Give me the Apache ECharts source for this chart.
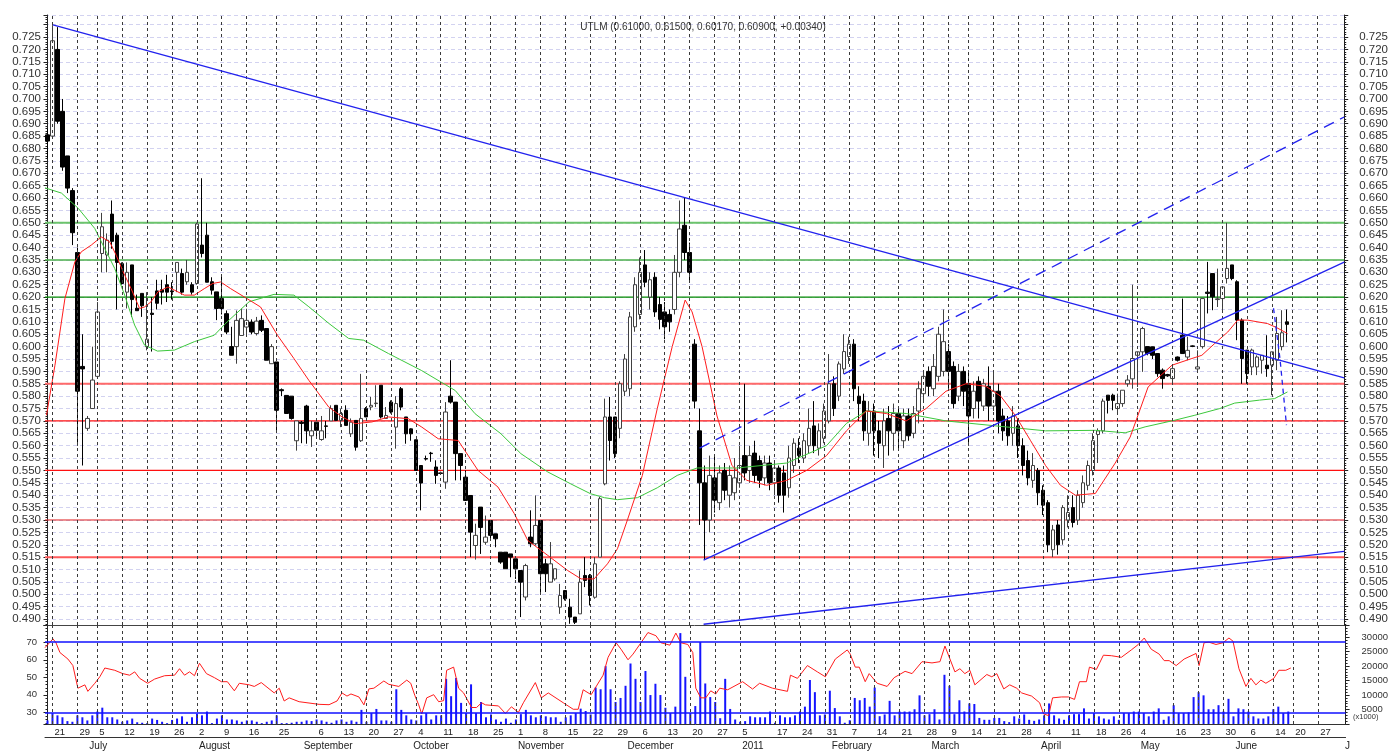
<!DOCTYPE html>
<html>
<head>
<meta charset="utf-8">
<script src="https://cdn.jsdelivr.net/npm/echarts@6/dist/echarts.min.js"></script>
<style>
  html, body { margin: 0; padding: 0; background: #fff; }
  #chart { width: 1391px; height: 751px; }
</style>
</head>
<body>
<div id="chart"></div>
<script>
// UTLM daily candles, RSI and volume, June 2010 - June 2011.

var slots = 261; // trading-day slots along the x axis (last ones are empty)

// [slot, label] for the weekly day ticks and the month ticks
var dayTicks = [[1,'21'],[6,'29'],[10,'5'],[15,'12'],[20,'19'],[25,'26'],[30,'2'],[35,'9'],[40,'16'],[46,'25'],
  [54,'6'],[59,'13'],[64,'20'],[69,'27'],[74,'4'],[79,'11'],[84,'18'],[89,'25'],[94,'1'],[99,'8'],
  [104,'15'],[109,'22'],[114,'29'],[119,'6'],[124,'13'],[129,'20'],[134,'27'],[139,'5'],[146,'17'],[151,'24'],
  [156,'31'],[161,'7'],[166,'14'],[171,'21'],[176,'28'],[181,'9'],[185,'14'],[190,'21'],[195,'28'],[200,'4'],
  [205,'11'],[210,'18'],[215,'26'],[219,'4'],[226,'16'],[231,'23'],[236,'30'],[241,'6'],[246,'14'],[250,'20'],[255,'27']];
var monthTicks = [[8,'July'],[30,'August'],[51,'September'],[73,'October'],[94,'November'],[116,'December'],
  [139,'2011'],[157,'February'],[177,'March'],[199,'April'],[219,'May'],[238,'June'],[260,'J']];

// [open, close, low, high] per slot
var candles = [
  [0.6855,0.683,0.676,0.688],[0.685,0.7235,0.684,0.7298],[0.720,0.691,0.690,0.729],[0.695,0.6725,0.671,0.700],[0.677,0.664,0.662,0.677],
  [0.663,0.646,0.641,0.664],[0.638,0.582,0.560,0.640],[0.592,0.591,0.552,0.605],[0.567,0.571,0.566,0.572],[0.575,0.5865,0.575,0.600],
  [0.588,0.614,0.587,0.618],[0.6376,0.6484,0.630,0.654],[0.637,0.643,0.630,0.6457],[0.6535,0.6425,0.6395,0.659],[0.645,0.634,0.615,0.646],
  [0.6335,0.6255,0.625,0.634],[0.622,0.630,0.6154,0.634],[0.633,0.619,0.612,0.633],[0.6155,0.6145,0.6145,0.621],[0.6215,0.6165,0.612,0.6215],
  [0.600,0.603,0.5985,0.622],[0.6135,0.613,0.598,0.620],[0.6225,0.6175,0.615,0.627],[0.623,0.622,0.617,0.627],[0.625,0.622,0.618,0.629],
  [0.6225,0.6222,0.619,0.626],[0.630,0.634,0.622,0.634],[0.6295,0.622,0.621,0.6315],[0.6262,0.630,0.625,0.635],[0.625,0.622,0.621,0.626],
  [0.6255,0.6495,0.625,0.650],[0.641,0.6376,0.636,0.668],[0.645,0.626,0.626,0.650],[0.6262,0.6228,0.621,0.628],[0.6221,0.6154,0.6107,0.6221],
  [0.6194,0.6154,0.613,0.629],[0.6133,0.6059,0.605,0.6146],[0.600,0.5965,0.5965,0.608],[0.600,0.6106,0.5931,0.6146],[0.6045,0.6113,0.6045,0.6153],
  [0.6079,0.6106,0.604,0.6153],[0.6099,0.6059,0.605,0.611],[0.6053,0.6103,0.6045,0.612],[0.6106,0.6066,0.6059,0.6126],[0.6073,0.5945,0.5945,0.6073],
  [0.5931,0.600,0.5931,0.601],[0.5938,0.5743,0.5655,0.5938],[0.5826,0.5822,0.580,0.5831],[0.5803,0.573,0.573,0.5803],[0.580,0.571,0.5705,0.580],
  [0.562,0.570,0.558,0.570],[0.5695,0.569,0.561,0.570],[0.576,0.566,0.5608,0.5765],[0.564,0.566,0.5595,0.570],[0.5695,0.5662,0.563,0.5695],
  [0.5625,0.566,0.562,0.572],[0.568,0.5678,0.563,0.570],[0.570,0.575,0.570,0.5763],[0.5763,0.5702,0.5702,0.5763],[0.5702,0.573,0.5675,0.575],
  [0.5743,0.5682,0.5682,0.5763],[0.5648,0.5695,0.5635,0.571],[0.5702,0.5594,0.558,0.5702],[0.562,0.571,0.5615,0.589],[0.575,0.5716,0.5716,0.5756],
  [0.5756,0.5763,0.5743,0.5797],[0.577,0.5772,0.5756,0.5844],[0.5844,0.5716,0.571,0.5844],[0.571,0.5722,0.5709,0.5756],[0.5776,0.5736,0.573,0.5783],
  [0.5675,0.577,0.5588,0.580],[0.583,0.5756,0.5743,0.5837],[0.5716,0.5648,0.5608,0.5716],[0.5668,0.5648,0.562,0.567],[0.5624,0.550,0.550,0.5624],
  [0.552,0.5449,0.5339,0.552],[0.5548,0.5546,0.554,0.556],[0.557,0.5568,0.5535,0.5575],[0.5514,0.548,0.5446,0.5541],[0.549,0.5488,0.5485,0.5495],
  [0.5453,0.5736,0.5426,0.5776],[0.580,0.5776,0.577,0.5945],[0.5776,0.5568,0.546,0.5776],[0.5568,0.552,0.546,0.5568],[0.5473,0.5379,0.5379,0.550],
  [0.5399,0.5251,0.515,0.5399],[0.5197,0.5238,0.514,0.5285],[0.5352,0.527,0.5163,0.5352],[0.521,0.5231,0.520,0.5318],[0.5298,0.5238,0.5218,0.5298],
  [0.5244,0.5224,0.519,0.5244],[0.517,0.513,0.5123,0.517],[0.517,0.5103,0.5103,0.517],[0.5163,0.515,0.5069,0.5163],[0.5143,0.5103,0.5062,0.515],
  [0.5096,0.5049,0.4908,0.5096],[0.4989,0.5116,0.4975,0.5123],[0.5231,0.5204,0.519,0.5339],[0.5204,0.5278,0.5197,0.5399],[0.5298,0.5083,0.5009,0.5298],
  [0.5123,0.5083,0.5009,0.5143],[0.5049,0.5123,0.5049,0.5211],[0.5062,0.5103,0.5055,0.5103],[0.4948,0.4995,0.4921,0.5042],[0.5015,0.4982,0.4975,0.5015],
  [0.4948,0.4908,0.4881,0.4982],[0.4908,0.4887,0.488,0.4908],[0.4921,0.5049,0.4921,0.5096],[0.5076,0.5056,0.5029,0.515],[0.5076,0.4995,0.4955,0.5082],
  [0.4988,0.5123,0.4982,0.515],[0.515,0.5386,0.515,0.5393],[0.5446,0.5716,0.544,0.579],[0.5716,0.5621,0.554,0.5797],[0.5716,0.5568,0.555,0.5716],
  [0.567,0.585,0.563,0.586],[0.582,0.595,0.580,0.597],[0.583,0.612,0.580,0.614],[0.608,0.625,0.606,0.628],[0.613,0.630,0.611,0.636],
  [0.633,0.626,0.624,0.639],[0.620,0.627,0.615,0.630],[0.628,0.614,0.612,0.630],[0.617,0.611,0.607,0.620],[0.614,0.608,0.603,0.618],
  [0.613,0.610,0.606,0.615],[0.615,0.630,0.613,0.637],[0.630,0.6475,0.628,0.659],[0.649,0.638,0.635,0.660],[0.638,0.630,0.626,0.642],
  [0.601,0.578,0.575,0.603],[0.566,0.545,0.528,0.575],[0.545,0.530,0.514,0.552],[0.530,0.548,0.525,0.556],[0.547,0.538,0.533,0.556],
  [0.537,0.549,0.534,0.552],[0.550,0.542,0.538,0.553],[0.540,0.548,0.535,0.552],[0.541,0.547,0.538,0.555],[0.545,0.552,0.543,0.560],
  [0.556,0.549,0.546,0.585],[0.550,0.556,0.545,0.560],[0.557,0.548,0.545,0.562],[0.554,0.546,0.543,0.556],[0.547,0.553,0.544,0.556],
  [0.553,0.545,0.542,0.556],[0.545,0.551,0.540,0.553],[0.551,0.540,0.537,0.552],[0.549,0.540,0.533,0.552],[0.543,0.555,0.539,0.560],
  [0.552,0.561,0.549,0.563],[0.559,0.556,0.553,0.563],[0.555,0.562,0.553,0.565],[0.560,0.567,0.557,0.575],[0.568,0.560,0.557,0.578],
  [0.559,0.566,0.556,0.569],[0.563,0.574,0.561,0.577],[0.570,0.585,0.569,0.597],[0.585,0.575,0.572,0.588],[0.580,0.593,0.578,0.594],
  [0.591,0.598,0.589,0.605],[0.596,0.601,0.593,0.604],[0.601,0.583,0.578,0.603],[0.580,0.577,0.570,0.584],[0.578,0.566,0.562,0.581],
  [0.565,0.574,0.560,0.578],[0.574,0.566,0.556,0.577],[0.566,0.561,0.555,0.570],[0.560,0.570,0.551,0.575],[0.571,0.566,0.556,0.576],
  [0.565,0.573,0.558,0.577],[0.573,0.566,0.559,0.575],[0.562,0.572,0.559,0.575],[0.572,0.564,0.562,0.575],[0.565,0.573,0.563,0.576],
  [0.574,0.583,0.569,0.586],[0.581,0.588,0.578,0.590],[0.590,0.584,0.580,0.592],[0.583,0.592,0.580,0.597],[0.588,0.605,0.586,0.608],
  [0.590,0.602,0.588,0.615],[0.598,0.590,0.583,0.601],[0.592,0.577,0.575,0.594],[0.580,0.590,0.578,0.593],[0.590,0.582,0.576,0.592],
  [0.585,0.572,0.560,0.590],[0.575,0.582,0.571,0.586],[0.586,0.578,0.571,0.588],[0.576,0.585,0.574,0.587],[0.584,0.576,0.570,0.592],
  [0.576,0.582,0.574,0.590],[0.582,0.570,0.565,0.585],[0.572,0.566,0.562,0.575],[0.570,0.564,0.560,0.572],[0.565,0.572,0.560,0.576],
  [0.568,0.560,0.555,0.571],[0.560,0.552,0.548,0.563],[0.554,0.547,0.544,0.558],[0.546,0.552,0.543,0.557],[0.550,0.541,0.536,0.551],
  [0.542,0.536,0.532,0.544],[0.537,0.520,0.517,0.538],[0.518,0.526,0.515,0.528],[0.528,0.520,0.516,0.530],[0.522,0.535,0.520,0.536],
  [0.530,0.533,0.527,0.540],[0.535,0.529,0.527,0.540],[0.530,0.540,0.528,0.542],[0.537,0.545,0.535,0.548],[0.544,0.552,0.542,0.554],
  [0.550,0.562,0.548,0.565],[0.5645,0.566,0.553,0.567],[0.566,0.578,0.565,0.579],[0.5804,0.5783,0.573,0.5804],[0.5804,0.5783,0.5743,0.581],
  [0.575,0.577,0.573,0.581],[0.577,0.5824,0.5757,0.5824],[0.585,0.5865,0.5838,0.5885],[0.587,0.5952,0.583,0.625],[0.5965,0.5979,0.5837,0.598],
  [0.5979,0.6073,0.5898,0.608],[0.600,0.5972,0.5965,0.600],[0.5999,0.5965,0.595,0.600],[0.5972,0.5891,0.5878,0.5972],[0.5905,0.5871,0.583,0.5912],
  [0.5887,0.5882,0.5878,0.589],[0.5871,0.5911,0.585,0.5918],[0.5958,0.5945,0.594,0.596],[0.6046,0.5972,0.5972,0.6194],[0.5958,0.5985,0.5945,0.604],
  [0.6003,0.6001,0.5998,0.6005],[0.591,0.5918,0.5898,0.5985],[0.600,0.6194,0.5992,0.6194],[0.622,0.6215,0.6134,0.6342],[0.6295,0.6201,0.6147,0.6295],
  [0.619,0.6193,0.616,0.6315],[0.6194,0.6241,0.6147,0.6241],[0.6275,0.6316,0.6255,0.650],[0.633,0.6275,0.6268,0.633],[0.6262,0.6107,0.6026,0.6268],
  [0.6107,0.5952,0.585,0.6114],[0.5986,0.5891,0.585,0.5986],[0.5918,0.5986,0.5885,0.5992],[0.5918,0.5958,0.5885,0.5965],[0.5945,0.5965,0.5891,0.5965],
  [0.5925,0.5911,0.5878,0.6046],[0.5925,0.5979,0.5804,0.5979],[0.5945,0.6053,0.5905,0.612],[0.600,0.6056,0.5985,0.6147],[0.610,0.609,0.6017,0.615]
];

// daily volume (shares, axis shown in thousands)
var volume = [
  1230,3750,2990,2320,1000,770,2990,2320,1230,2990, 4310,5640,2320,2320,1560,770,1230,1880,600,430,
  300,1880,1400,770,300,1400,1880,2650,770,2320, 3550,2990,4310,300,1880,2990,1560,1560,1230,770,
  1230,1230,770,300,770,1230,2990,300,300,430, 770,770,1230,1000,1560,1230,770,430,1230,1560,
  770,1230,770,4880,770,3750,5200,1230,1230,770, 12000,4880,2990,1560,1230,2990,3750,1560,2990,2990,
  15600,9600,15900,7300,3750,13700,3750,7600,2320,3300, 1560,770,1880,430,1560,3400,4880,2990,2320,2990,
  2650,2320,2320,770,2320,2990,3750,5300,4500,3300, 12600,12000,20000,12000,7600,9000,13200,20900,15600,7600,
  18300,10000,13900,10000,5600,3750,6000,31400,16300,3750, 6200,28300,14000,9300,7600,2000,15600,5200,1560,770,
  1000,2650,2320,2320,2320,4310,430,2990,2320,2320, 2990,4310,6000,15200,11000,2990,3300,11500,5500,2650,
  430,1300,9000,8200,9000,6000,12600,2700,3300,8000, 2990,4310,4310,4310,5100,9900,2990,3400,5100,1560,
  17000,13200,3400,8200,4310,7100,6900,2100,1450,1450, 2100,2100,1000,660,2650,1900,3300,1450,1100,1560,
  2990,7100,2990,1900,1450,2990,3400,3400,5400,1900, 3750,2650,1900,1560,2650,1450,3750,3750,4310,4310,
  3750,2650,4310,5400,1450,2650,6500,3750,3750,4000, 9300,11000,9900,5100,5100,6500,4310,8700,2650,5400,
  5100,4310,2650,1900,1900,2650,5100,6000,3750,4310
];

// moving averages, [slot, price]
var maFast = [[-0.2,0.5723],[1.5,0.5925],[3.5,0.6194],[5.5,0.6342],[6.8,0.6383],[8.8,0.641],[10.8,0.6443],[12.5,0.6423],
  [13.8,0.6369],[15.2,0.6302],[16.8,0.6234],[18.5,0.6154],[19.5,0.616],[20.8,0.6181],[22.2,0.6221],[24.2,0.6241],
  [25.5,0.6228],[27.5,0.6208],[29.5,0.6208],[31.5,0.6234],[33.2,0.6255],[34.8,0.6261],[36.8,0.6234],[39.5,0.6201],
  [42.8,0.616],[46.2,0.6046],[49.5,0.5952],[52.5,0.5864],[56.5,0.5756],[59.2,0.5716],[61.8,0.5689],[65.2,0.5696],
  [68.5,0.5716],[72.5,0.5709],[75.2,0.5675],[78.5,0.5628],[82.5,0.5621],[86.5,0.55],[90.5,0.5433],[93.8,0.5325],
  [96.5,0.5217],[100.5,0.5157],[104.5,0.5096],[107.2,0.5062],[109.8,0.5062],[112.5,0.5123],[114.5,0.5184],
  [116.5,0.530],[119.5,0.548],[122.5,0.575],[125.5,0.600],[128.1,0.6188],[129.5,0.614],[131.5,0.600],[134.5,0.572],
  [137.5,0.552],[140.5,0.546],[144.5,0.544],[148.5,0.546],[152.5,0.550],[156.5,0.556],[160.5,0.566],[164.5,0.574],
  [168.5,0.573],[172.5,0.570],[176.5,0.575],[180.5,0.582],[184.5,0.585],[188.5,0.584],[191.5,0.580],[194.5,0.572],
  [197.5,0.562],[200.5,0.552],[203.5,0.544],[206.5,0.540],[210.5,0.5407],[214.5,0.553],[217.5,0.5635],[221.1,0.5837],
  [225.9,0.5925],[229.9,0.5952],[231.9,0.5965],[234.5,0.6013],[237.1,0.6059],[239.1,0.6107],[241.1,0.6107],
  [245.1,0.6093],[246.9,0.6077],[249.1,0.6053]];
var maSlow = [[-0.5,0.6641],[2.8,0.662],[6.2,0.6558],[9.5,0.6477],[11.5,0.6396],[13.5,0.6316],[15.5,0.6208],[17.5,0.6087],
  [19.5,0.6006],[22.1,0.5982],[25.5,0.5986],[29.5,0.602],[33.5,0.6046],[36.1,0.610],[40.5,0.6181],[45.5,0.6211],
  [49.5,0.6208],[52.5,0.6161],[56.5,0.6094],[60.5,0.6033],[63.5,0.6026],[68.5,0.5972],[75.1,0.5904],[81.9,0.5823],
  [85.9,0.5729],[91.1,0.5648],[95.1,0.5568],[100.5,0.5494],[105.1,0.5446],[109.1,0.5406],[111.9,0.539],[114.5,0.5382],
  [118.5,0.539],[122.5,0.543],[126.5,0.548],[130.5,0.551],[138.5,0.551],[148.5,0.553],[156.5,0.560],[160.5,0.569],
  [164.5,0.574],[172.5,0.573],[180.5,0.570],[190.5,0.568],[200.5,0.566],[210.5,0.5662],[216.5,0.5652],[220.5,0.5676],
  [226.5,0.5703],[230.5,0.5723],[235.5,0.575],[238.5,0.5772],[243.5,0.5784],[246.5,0.579],[249.1,0.5817]];

// RSI, [slot, value]
var rsi = [[-0.5,66.9],[1.1,71.9],[1.7,69.7],[2.5,64.1],[4.1,60.4],[5.1,56.7],[6.1,43.8],[7.5,45.7],[8.1,42],[9.5,46.6],
  [10.5,50.3],[11.5,55.3],[13.5,54],[15.1,52.1],[16.5,51.2],[17.5,53.1],[18.5,49.4],[20.1,46.6],[21.5,49],[23.5,50.9],
  [25.5,51.2],[26.5,54.9],[27.5,51.2],[28.5,53.1],[29.5,50.9],[30.5,58],[31.9,52.1],[33.5,49.8],[34.9,47.5],[36.1,47.5],
  [37.5,42.3],[38.5,46.6],[40.5,45.7],[41.5,44.8],[42.9,47],[45.5,41.1],[46.5,43.8],[47.5,36.5],[48.5,38.3],[50.5,36.1],
  [54.5,34.6],[56.5,34.4],[58.1,36.5],[59.1,41.1],[60.1,39.3],[60.9,40.5],[62.5,38.8],[63.5,34.3],[64.5,43.4],[65.5,43.8],
  [67.5,47.9],[68.5,46],[70.5,44.8],[72.1,48.4],[72.9,46.6],[73.7,39.8],[74.5,34.3],[75.1,29.1],[76.1,38.3],[77.5,40.1],
  [78.5,36.1],[79.5,36.7],[80.1,54],[81.5,55.8],[82.5,43.8],[83.5,41.1],[85.1,32.8],[86.1,32.8],[87.1,35.5],[87.9,34.3],
  [90.5,33.7],[91.9,29.4],[93.1,33.2],[94.5,30],[95.5,35.5],[97.9,47],[99.1,38.3],[100.5,41.1],[103.5,35.5],[105.5,31.8],
  [106.5,31.8],[107.5,42.9],[109.1,40.1],[111.5,51.2],[112.5,61.4],[114.1,69.7],[115.1,66],[116.5,60],[117.5,63.2],[119.1,69.7],
  [120.5,75.5],[122.1,73.7],[123.1,69.7],[124.9,68.3],[126.1,75.2],[127.1,69.7],[128.5,68.7],[129.5,64.1],[130.1,43.8],[131.1,38.3],
  [132.1,38.3],[133.1,42.3],[134.1,40.5],[134.9,43.8],[136.5,42.9],[139.5,47.5],[141.5,43.3],[142.9,46.6],[145.5,43.8],[148.5,42],
  [149.1,51.2],[150.5,49.4],[152.5,56.7],[154.5,53.1],[156.1,50.3],[158.1,60.4],[160.5,65.6],[161.1,63.2],[162.1,55.8],[162.9,55.8],
  [164.1,47.5],[164.9,52.1],[166.5,46.6],[168.5,44.8],[169.9,49.8],[172.1,53.4],[173.5,52.1],[175.5,58.9],[177.5,58.2],[179.1,58.9],
  [180.1,67.8],[182.1,53.1],[183.1,54.9],[184.1,52.1],[185.1,54],[186.1,45.7],[188.5,51.6],[189.5,50.3],[190.5,52.1],[191.9,43.4],
  [193.1,45.7],[194.5,43.8],[195.5,41.1],[197.5,39.3],[199.1,35.5],[199.9,29.1],[200.9,28.2],[201.7,38.3],[203.5,38.8],[204.9,38.8],
  [206.1,37.4],[207.1,47.5],[208.5,47.5],[209.1,55.8],[210.5,54.5],[211.9,62.6],[213.5,62.3],[215.5,61.4],[217.5,65.6],[218.9,68.7],
  [220.1,72.4],[221.5,66],[223.1,63.2],[224.1,59.5],[225.1,59.5],[226.5,56.7],[228.1,60.4],[230.5,63.6],[231.1,56.7],[232.1,69.7],
  [233.1,70],[234.5,68.7],[235.9,69.7],[237.1,72.4],[237.9,70.6],[239.1,54.9],[240.5,44.8],[241.5,49.4],[242.5,45.7],[243.5,48.4],
  [244.5,46.6],[246.1,49.4],[247.1,54],[248.5,54],[249.5,55.3]];

// support / resistance levels and trend lines
var greenLevels = [0.650, 0.635, 0.620];
var redLevels = [0.585, 0.570, 0.550, 0.530, 0.515];
var rsiLevels = [70, 30];
var downTrend = [[1.1, 0.7299], [260.5, 0.5874]];
var upTrend = [[131.8, 0.5138], [260.5, 0.6341]];
var upChannel = [[131.0, 0.5590], [260.5, 0.6927]];
var baseTrend = [[131.8, 0.4879], [260.5, 0.5173]];
var shortDrop = [[246.3, 0.6155], [247.6, 0.5950], [248.9, 0.5683]];

var title = 'UTLM (0.61000, 0.61500, 0.60170, 0.60900, +0.00340)';

// ---------------------------------------------------------------------------
var font = 'Liberation Sans, Arial, sans-serif';
var slotNames = [];
for (var s = 0; s < slots; s++) slotNames.push(String(s));
var dayMap = {}, monthMap = {};
dayTicks.forEach(function (t) { dayMap[t[0]] = t[1]; });
monthTicks.forEach(function (t) { monthMap[t[0]] = t[1]; });
function isDay(i) { return dayMap[i] !== undefined; }
function isMonth(i) { return monthMap[i] !== undefined; }

var vGrid = dayTicks.map(function (t) { return { xAxis: t[0] }; });
var vGridStyle = { type: [3, 3], color: '#3a3a3a', width: 1 };

var levelStyles = {
  '0.650': { color: '#6cc46c', width: 2 }, '0.635': { color: '#4cb04c', width: 1.5 }, '0.620': { color: '#008a00', width: 1.2 },
  '0.585': { color: '#ff6a6a', width: 2 }, '0.570': { color: '#ff1010', width: 1.2 }, '0.550': { color: '#ff1010', width: 1.2 },
  '0.530': { color: '#e02020', width: 1 }, '0.515': { color: '#ff5a5a', width: 2 }
};
// each level is drawn as a flat line across the whole plot
var levelSeries = greenLevels.concat(redLevels).map(function (v) {
  var st = levelStyles[v.toFixed(3)];
  return { type: 'line', xAxisIndex: 1, yAxisIndex: 0, silent: true, z: 2, showSymbol: false,
    data: [[-0.5, v], [slots - 0.5, v]], lineStyle: { color: st.color, width: st.width } };
});

function priceAxis(pos) {
  return {
    type: 'value', gridIndex: 0, position: pos, min: 0.4876, max: 0.7339, splitNumber: 49,
    axisLine: { show: true, lineStyle: { color: '#222' } },
    axisTick: { show: true, length: 4, lineStyle: { color: '#222' } },
    minorTick: { show: true, splitNumber: 5, length: 2, lineStyle: { color: '#222' } },
    splitLine: { show: pos === 'left', lineStyle: { type: [4, 3], color: '#d2d2f0' } },
    axisLabel: {
      color: '#333', fontSize: 11.5, fontFamily: font, margin: pos === 'left' ? 4 : 15,
      showMinLabel: false, showMaxLabel: false,
      formatter: function (v) { return (v > 0.7276 || v < 0.4895) ? '' : v.toFixed(3); }
    }
  };
}

var option = {
  animation: false,
  backgroundColor: '#fff',
  textStyle: { fontFamily: font },
  title: {
    text: title, left: 698, top: 17, textAlign: 'center',
    textStyle: { fontSize: 10, fontWeight: 'normal', color: '#333', fontFamily: font }
  },
  graphic: [
    { type: 'text', left: 1353, top: 713, silent: true,
      style: { text: '(x1000)', fontSize: 7.5, fill: '#333', fontFamily: font } }
  ],
  grid: [
    { left: 45, right: 40, top: 15, height: 610 },
    { left: 45, right: 40, top: 625, height: 102 }
  ],
  xAxis: [
    { type: 'category', gridIndex: 0, data: slotNames, axisLine: { lineStyle: { color: '#444' } },
      axisTick: { show: false }, axisLabel: { show: false }, splitLine: { show: false } },
    { type: 'value', gridIndex: 0, min: -0.5, max: slots - 0.5, show: false },
    { type: 'category', gridIndex: 1, data: slotNames, axisLine: { lineStyle: { color: '#333' } },
      axisTick: { interval: isDay, alignWithLabel: true, length: 13, lineStyle: { color: '#333' } },
      axisLabel: { interval: isDay, formatter: function (v, i) { return dayMap[i]; },
        align: 'left', margin: 3, padding: [0, 0, 0, 2], fontSize: 9.5, color: '#222', fontFamily: font } },
    { type: 'category', gridIndex: 1, data: slotNames, position: 'bottom', offset: 13,
      axisLine: { lineStyle: { color: '#333' } },
      axisTick: { interval: isMonth, alignWithLabel: true, length: 11, lineStyle: { color: '#333' } },
      axisLabel: { interval: isMonth, formatter: function (v, i) { return monthMap[i]; },
        align: 'left', margin: 4, padding: [0, 0, 0, 2], fontSize: 10, color: '#222', fontFamily: font } },
    { type: 'value', gridIndex: 1, min: -0.5, max: slots - 0.5, show: false }
  ],
  yAxis: [
    priceAxis('left'),
    priceAxis('right'),
    { type: 'value', gridIndex: 1, position: 'left', min: 23.4, max: 79.8, splitNumber: 5,
      axisLine: { show: true, lineStyle: { color: '#222' } },
      axisTick: { show: true, length: 4 }, minorTick: { show: true, splitNumber: 5, length: 2 },
      splitLine: { show: false },
      axisLabel: { showMinLabel: false, showMaxLabel: false, fontSize: 9.5, color: '#333', margin: 8, fontFamily: font } },
    { type: 'value', gridIndex: 1, position: 'right', min: 0, max: 34200, interval: 5000,
      axisLine: { show: true, lineStyle: { color: '#222' } },
      axisTick: { show: true, length: 4 }, minorTick: { show: true, splitNumber: 5, length: 2 },
      splitLine: { show: false },
      axisLabel: { showMinLabel: false, showMaxLabel: false, fontSize: 9.5, color: '#333', margin: 16, fontFamily: font,
        formatter: function (v) { return String(v); } } }
  ],
  series: [
    { type: 'line', xAxisIndex: 1, yAxisIndex: 0, data: [], silent: true, z: 1,
      markLine: { silent: true, symbol: ['none', 'none'], label: { show: false }, precision: 4,
        lineStyle: vGridStyle, data: vGrid } },
    { type: 'candlestick', xAxisIndex: 0, yAxisIndex: 0, data: candles, barWidth: 4, z: 3,
      itemStyle: { color: '#ffffff', color0: '#000000', borderColor: '#404040', borderColor0: '#000000', borderWidth: 1 } },
    { type: 'line', xAxisIndex: 1, yAxisIndex: 0, data: maSlow, showSymbol: false, z: 4,
      lineStyle: { color: '#3cc83c', width: 1 } },
    { type: 'line', xAxisIndex: 1, yAxisIndex: 0, data: maFast, showSymbol: false, z: 4,
      lineStyle: { color: '#ff1c1c', width: 1 } },
    { type: 'line', xAxisIndex: 1, yAxisIndex: 0, data: downTrend, showSymbol: false, z: 5,
      lineStyle: { color: '#2222ee', width: 1.3 } },
    { type: 'line', xAxisIndex: 1, yAxisIndex: 0, data: upTrend, showSymbol: false, z: 5,
      lineStyle: { color: '#2222ee', width: 1.3 } },
    { type: 'line', xAxisIndex: 1, yAxisIndex: 0, data: upChannel, showSymbol: false, z: 5,
      lineStyle: { color: '#2222ee', width: 1.3, type: [11, 7] } },
    { type: 'line', xAxisIndex: 1, yAxisIndex: 0, data: baseTrend, showSymbol: false, z: 5,
      lineStyle: { color: '#2222ee', width: 1.3 } },
    { type: 'line', xAxisIndex: 1, yAxisIndex: 0, data: shortDrop, showSymbol: false, z: 5,
      lineStyle: { color: '#2222ee', width: 1.3, type: [5, 4] } },

    { type: 'line', xAxisIndex: 4, yAxisIndex: 2, data: [], silent: true, z: 1,
      markLine: { silent: true, symbol: ['none', 'none'], label: { show: false },
        lineStyle: vGridStyle, data: vGrid } },
    { type: 'bar', xAxisIndex: 2, yAxisIndex: 3, data: volume, barWidth: 2, z: 2,
      itemStyle: { color: '#1414ff' } },
    { type: 'line', xAxisIndex: 4, yAxisIndex: 2, data: rsi, showSymbol: false, z: 4,
      lineStyle: { color: '#ff1c1c', width: 1 },
      markLine: { silent: true, symbol: ['none', 'none'], label: { show: false }, precision: 4,
        lineStyle: { color: '#1010ff', width: 1.5, type: 'solid' },
        data: rsiLevels.map(function (v) { return { yAxis: v }; }) } }
  ].concat(levelSeries)
};

var chart = echarts.init(document.getElementById('chart'), null, { renderer: 'canvas' });
chart.setOption(option);
</script>
</body>
</html>
